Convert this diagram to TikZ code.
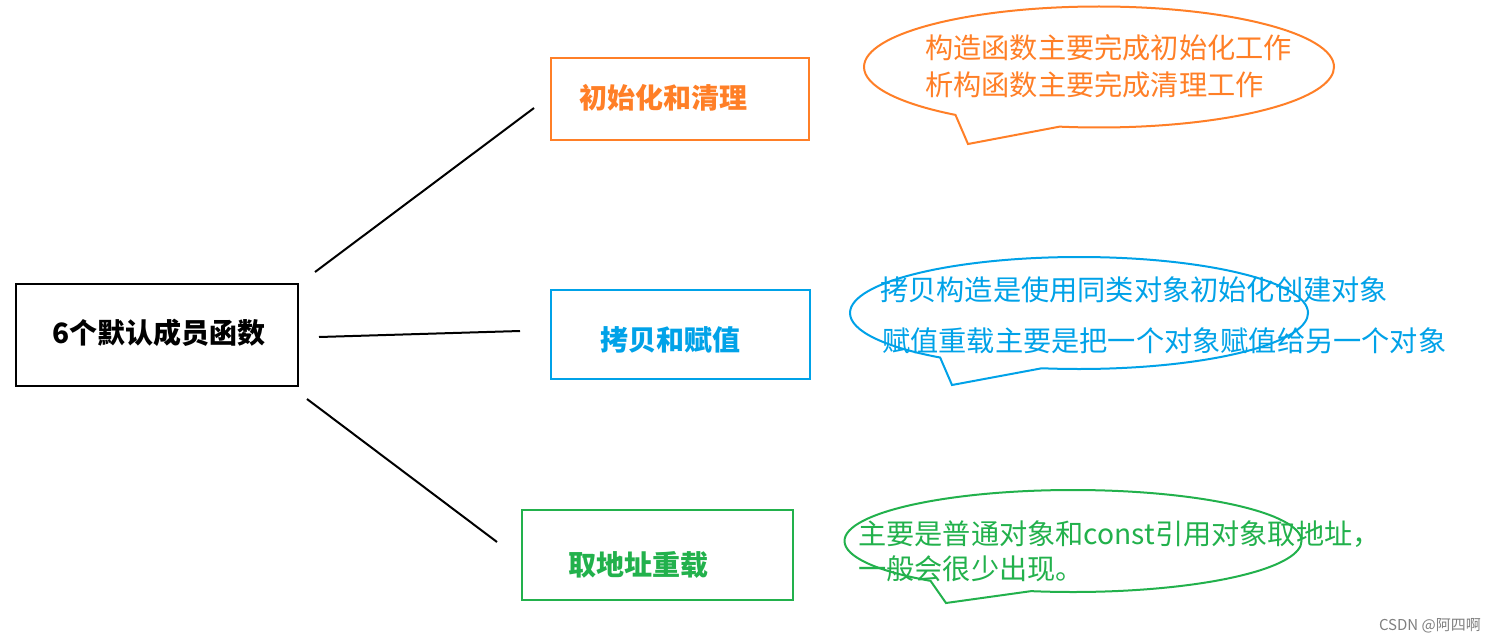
\documentclass[tikz,border=0pt]{standalone}
\usepackage{fontspec}
\newfontfamily\cjk{Noto Sans CJK SC}
\usetikzlibrary{shapes.callouts}
\definecolor{paintorange}{RGB}{255,127,39}
\definecolor{paintblue}{RGB}{0,162,232}
\definecolor{paintgreen}{RGB}{34,177,76}
\tikzset{
  fnbox/.style = {draw, line width=2pt, inner sep=0pt},
  fnlabel/.style = {inner sep=0pt, font=\cjk\bfseries\fontsize{28}{33}\selectfont},
  bubble/.style = {ellipse callout, draw, line width=2pt, inner sep=0pt,
    callout pointer arc=28},
  bubbletext/.style = {anchor=west, inner sep=0pt, font=\cjk\fontsize{28.2}{33}\selectfont},
  branch/.style = {line width=2pt, black},
}
\begin{document}
\begin{tikzpicture}[x=1pt, y=-1pt]
    \useasboundingbox [fill=white] (0,0) rectangle (1495,642) ;
    \node [fnbox, minimum width=282, minimum height=102] (main) at (157,335) {} ;
    \node [fnlabel] (mainlab) at (159,333) {6个默认成员函数} ;
    \node [fnbox, paintorange, minimum width=258, minimum height=82] (init) at (680,99) {} ;
    \node [fnlabel, paintorange] (initlab) at (663,98) {初始化和清理} ;
    \node [fnbox, paintblue, minimum width=259, minimum height=89] (copy) at (680.5,334.5) {} ;
    \node [fnlabel, paintblue] (copylab) at (670,340) {拷贝和赋值} ;
    \node [fnbox, paintgreen, minimum width=271, minimum height=90] (addr) at (657.5,555) {} ;
    \node [fnlabel, paintgreen] (addrlab) at (638,565) {取地址重载} ;
    \coordinate (b1) at ([shift={(16,-11)}]main.north east) ;
    \coordinate (e1) at ([shift={(-16,9)}]init.west) ;
    \coordinate (b2) at ([shift={(20,2)}]main.east) ;
    \coordinate (e2) at ([shift={(-30,-3.5)}]copy.west) ;
    \coordinate (b3) at ([shift={(8,12)}]main.south east) ;
    \coordinate (e3) at ([shift={(-24,-13)}]addr.west) ;
    \draw [branch] (b1) -- (e1) ;
    \draw [branch] (b2) -- (e2) ;
    \draw [branch] (b3) -- (e3) ;
    \node [bubble, paintorange, minimum width=470, minimum height=121,
      callout absolute pointer={(968,144)}] (initnote) at (1099,67) {} ;
    \node [bubbletext, paintorange] (initnote1) at (925,48) {构造函数主要完成初始化工作} ;
    \node [bubbletext, paintorange] (initnote2) at (925,85) {析构函数主要完成清理工作} ;
    \node [bubble, paintblue, minimum width=458, minimum height=112,
      callout absolute pointer={(952,385)}] (copynote) at (1079,313) {} ;
    \node [bubbletext, paintblue] (copynote1) at (880,290) {拷贝构造是使用同类对象初始化创建对象} ;
    \node [bubbletext, paintblue] (copynote2) at (882,341) {赋值重载主要是把一个对象赋值给另一个对象} ;
    \node [bubble, paintgreen, minimum width=457, minimum height=102,
      callout absolute pointer={(946,603)}] (addrnote) at (1073,541) {} ;
    \node [bubbletext, paintgreen] (addrnote1) at (858,534) {主要是普通对象和const引用对象取地址，} ;
    \node [bubbletext, paintgreen] (addrnote2) at (858,569) {一般会很少出现。} ;
    \node [anchor=east, inner sep=0pt, gray, font=\cjk\fontsize{15}{18}\selectfont]
      (mark) at (1481,626) {CSDN @阿四啊} ;
  \end{tikzpicture}
\end{document}
